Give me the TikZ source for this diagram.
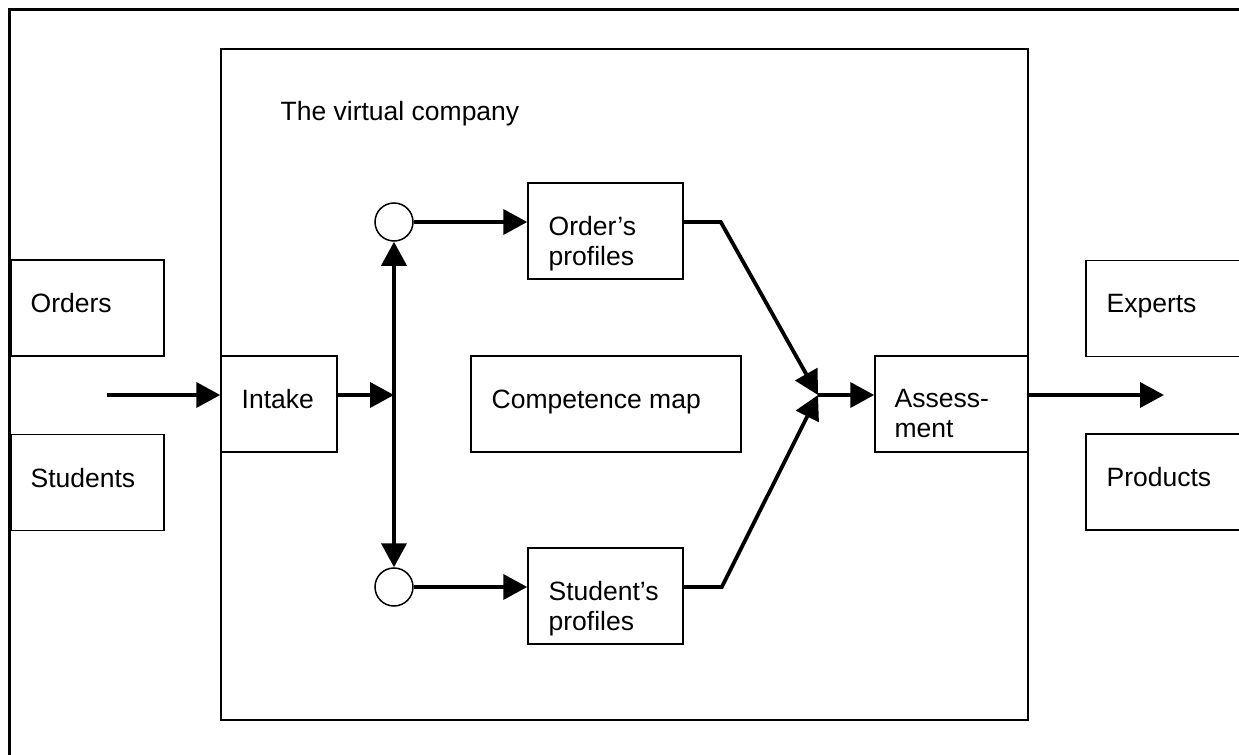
\documentclass[tikz,border=0pt]{standalone}
\usepackage{fontspec}
\setmainfont{Liberation Sans}
\usetikzlibrary{arrows.meta,positioning}

\begin{document}
\begin{tikzpicture}[x = 0.5pt, y = -0.5pt,
		box_node/.style = {rectangle, draw, line width = 0.75pt, minimum height = 48pt, inner sep = 0pt},
		circ_node/.style = {circle, draw, line width = 0.75pt, minimum size = 19pt, inner sep = 0pt},
		txt_node/.style = {anchor = north west, inner sep = 0pt, align = left, font = \fontsize{13.25}{15}\selectfont},
		flow/.style = {-{Triangle[length = 12pt, width = 12.5pt]}, line width = 1.9pt},
		]
		\useasboundingbox (0,0) rectangle (1239,755);
		\clip (0,0) rectangle (1239,755);
		
		% frame (only top and left edge)
		\draw[line width = 1.5pt] (9.5,760) -- (9.5,9.5) -- (1245,9.5);
		
		%inputs
		\node[box_node, minimum width = 76.5pt] (orders) at (87.5,308) {};
		\node[box_node, minimum width = 76.5pt, below = 38.5pt of orders] (students) {};
		\node[txt_node] at ([shift = {(20,34)}]orders.north west) {Orders};
		\node[txt_node] at ([shift = {(20,34)}]students.north west) {Students};
		
		%company
		\node[box_node, minimum width = 403.5pt, minimum height = 335.5pt] (company) at (624.5,384.5) {};
		\node[txt_node] at ([shift = {(60,53)}]company.north west) {The virtual company};
		
		\node[box_node, minimum width = 58pt] (intake) at (279,404) {};
		\node[txt_node] at ([shift = {(21,34)}]intake.north west) {Intake};
		
		\node[circ_node] (ctop) at (394,222) {};
		\node[circ_node] (cbot) at (394,587) {};
		
		\node[box_node, minimum width = 77.5pt] (ordprof) at (605.5,231) {};
		\node[txt_node] at ([shift = {(21,34)}]ordprof.north west) {Order’s\\profiles};
		\node[box_node, minimum width = 77.5pt] (stuprof) at (605.5,596) {};
		\node[txt_node] at ([shift = {(21,34)}]stuprof.north west) {Student’s\\profiles};
		
		\node[box_node, minimum width = 135pt] (compmap) at (606,404) {};
		\node[txt_node] at ([shift = {(21,34)}]compmap.north west) {Competence map};
		
		\node[box_node, minimum width = 76.5pt] (assess) at (951.5,404) {};
		\node[txt_node] at ([shift = {(20,34)}]assess.north west) {Assess-\\ment};
		
		%outputs
		\node[box_node, minimum width = 78pt] (experts) at (1164,308.5) {};
		\node[box_node, minimum width = 78pt, below = 38pt of experts] (products) {};
		\node[txt_node] at ([shift = {(21,34)}]experts.north west) {Experts};
		\node[txt_node] at ([shift = {(21,34)}]products.north west) {Products};
		
		%arrows
		\coordinate (in) at (107,395);
		\coordinate (junc) at (394,395);
		\coordinate (merge) at (818,395);
		\coordinate (out) at (1164,395);
		
		\draw[flow] (in) -- (intake.west |- in);
		\draw[flow] (intake.east |- in) -- (junc);
		\draw[flow] (junc) -- (ctop);
		\draw[flow] (junc) -- (cbot);
		\draw[flow] (ctop) -- (ordprof.west |- ctop);
		\draw[flow] (cbot) -- (stuprof.west |- cbot);
		\draw[flow] (ordprof.east |- ctop) -- ++(37,0) -- (merge);
		\draw[flow] (stuprof.east |- cbot) -- ++(38,0) -- (merge);
		\draw[flow] (merge) -- (assess.west |- merge);
		\draw[flow] (assess.east |- merge) -- (out);

\end{tikzpicture}
\end{document}
